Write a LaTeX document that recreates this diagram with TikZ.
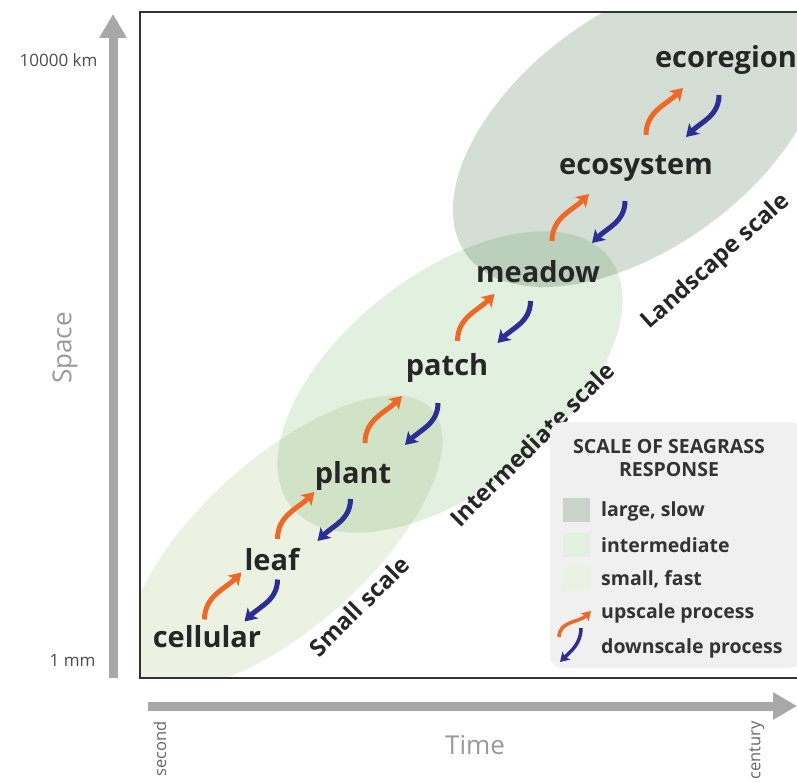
\documentclass[tikz,border=0pt]{standalone}
\usepackage{fontspec}
\setmainfont{Open Sans}
\usetikzlibrary{arrows.meta,calc}

\definecolor{smallgreen}{RGB}{236,242,226}
\definecolor{midgreen}{RGB}{226,240,224}
\definecolor{landgray}{RGB}{212,222,212}
\definecolor{axisgray}{RGB}{168,168,168}
\definecolor{upcol}{RGB}{240,104,38}
\definecolor{downcol}{RGB}{44,46,150}
\definecolor{legendbg}{RGB}{240,240,240}

\tikzset{
  level/.style={font=\bfseries\fontsize{29}{29}\selectfont, text=black!85, inner sep=0pt},
  scalename/.style={font=\bfseries\fontsize{23.5}{23.5}\selectfont, text=black!85, inner sep=0pt},
  keytext/.style={font=\bfseries\fontsize{19.5}{19.5}\selectfont, text=black!80, inner sep=0pt, anchor=west},
  upscale/.style={upcol, line width=5pt, -{Stealth[length=12pt,width=15pt,inset=3pt]}},
  downscale/.style={downcol, line width=5pt, -{Stealth[length=12pt,width=15pt,inset=3pt]}},
  axisarrow/.style={axisgray, line width=9pt, -{Triangle[length=24pt,width=26pt]}}
}

% one orange/blue pair between two levels
\newcommand{\scalepair}[2]{%
  \coordinate (mid) at ($(#1)!0.5!(#2)$);
  \draw[upscale] ($(mid)+(-35,-21)$) to[out=90,in=225] ($(mid)+(2,26)$);
  \draw[downscale] ($(mid)+(38,19)$) to[out=-90,in=45] ($(mid)+(5,-23)$);
}

\begin{document}
\begin{tikzpicture}[x=1pt, y=1pt]
  \useasboundingbox (0,0) rectangle (797,782);

  % Scale ellipses, clipped to the frame
  \begin{scope}[blend mode=multiply]
    \clip (141,105) rectangle (797,769);
    \fill[smallgreen] (285,240) ellipse[x radius=198, y radius=84, rotate=42];
    \fill[midgreen] (450,400) ellipse[x radius=202, y radius=108, rotate=38];
    \fill[landgray] (638,652) ellipse[x radius=212, y radius=118, rotate=36];
  \end{scope}

  % Frame
  \draw[line width=2pt, black!80] (805,770) -- (140,770) -- (140,104) -- (805,104);

  % Axes
  \draw[axisarrow] (113,104) -- (113,768);
  \draw[axisarrow] (148,76) -- (797,76);
  \node[anchor=east, text=black!70, font=\fontsize{17}{17}\selectfont] (top) at (101,722) {10000 km};
  \node[anchor=east, text=black!70, font=\fontsize{17}{17}\selectfont] (bottom) at (99,122) {1 mm};
  \node[rotate=90, text=black!40, font=\fontsize{26}{26}\selectfont] (space) at (65,434) {Space};
  \node[text=black!40, font=\fontsize{26}{26}\selectfont] (time) at (475,37) {Time};
  \node[rotate=90, anchor=east, text=black!60, font=\fontsize{16.5}{16.5}\selectfont] (second) at (160,64) {second};
  \node[rotate=90, anchor=east, text=black!60, font=\fontsize{16.5}{16.5}\selectfont] (century) at (757,64) {century};

  % Levels
  \node[level] (cellular) at (207,145) {cellular};
  \node[level] (leaf) at (272,222) {leaf};
  \node[level] (plant) at (353,306) {plant};
  \node[level] (patch) at (447,414) {patch};
  \node[level] (meadow) at (538,510) {meadow};
  \node[level] (ecosystem) at (636,614) {ecosystem};
  \node[level] (ecoregion) at (726,722) {ecoregion};

  % Up and down processes
  \foreach \lo/\hi in {cellular/leaf, leaf/plant, plant/patch, patch/meadow,
                       meadow/ecosystem, ecosystem/ecoregion}
    {\scalepair{\lo}{\hi}}

  % Scale names
  \node[scalename, rotate=45] (smallname) at (359,176) {Small scale};
  \node[scalename, rotate=45] (midname) at (532,338) {Intermediate scale};
  \node[scalename, rotate=42] (landname) at (716,520) {Landscape scale};

  % Legend
  \fill[legendbg, rounded corners=12pt] (550,114) rectangle (802,360);
  \node[font=\bfseries\fontsize{19.5}{19.5}\selectfont, text=black!80, align=center, inner sep=0pt] (keytitle) at (669,324) {SCALE OF SEAGRASS\\[4pt]RESPONSE};
  \fill[landgray!95!black] (563,260) rectangle (590,284);
  \fill[midgreen] (563,225) rectangle (590,249);
  \fill[smallgreen] (563,191) rectangle (590,215);
  \node[keytext] (klarge) at (601,271) {large, slow};
  \node[keytext] (kmid) at (601,237) {intermediate};
  \node[keytext] (ksmall) at (601,203) {small, fast};
  \node[keytext] (kup) at (601,169) {upscale process};
  \node[keytext] (kdown) at (601,134) {downscale process};
  \draw[upscale, line width=3.5pt, -{Stealth[length=9pt,width=11pt,inset=2pt]}] (559,145) to[out=90,in=225] (591,171);
  \draw[downscale, line width=3.5pt, -{Stealth[length=9pt,width=11pt,inset=2pt]}] (581,154) to[out=-90,in=45] (560,120);
\end{tikzpicture}
\end{document}
